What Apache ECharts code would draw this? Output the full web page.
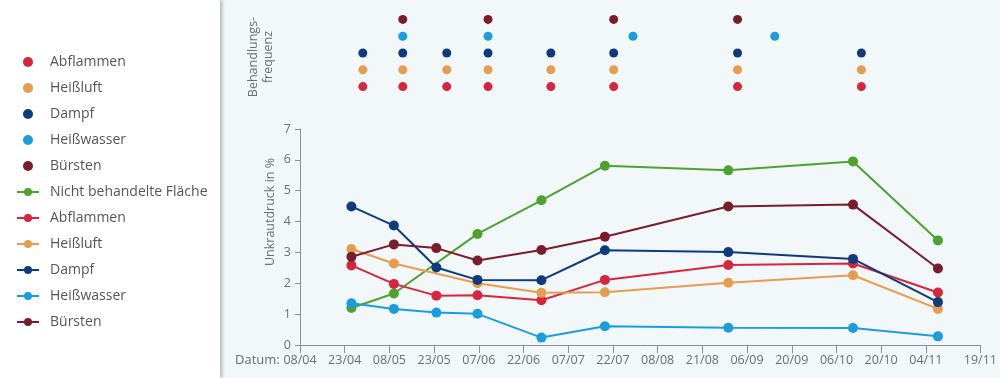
<!DOCTYPE html>
<html>
<head>
<meta charset="utf-8">
<script src="https://cdn.jsdelivr.net/npm/echarts@6/dist/echarts.min.js"></script>
<style>
html, body { margin: 0; padding: 0; background: #f2f7fa; }
#main { width: 1000px; height: 378px; }
</style>
</head>
<body>
<div id="main"></div>
<script>
// x-Achse: gleichmaessige Teilung, Beschriftung als Datum
var tickLabels = ['08/04', '23/04', '08/05', '23/05', '07/06', '22/06', '07/07', '22/07',
                  '08/08', '21/08', '06/09', '20/09', '06/10', '20/10', '04/11', '19/11'];

// Boniturtermine (Position auf der x-Achse)
var messTermine = [1.15, 2.1, 3.05, 3.97, 5.4, 6.82, 9.58, 12.37, 14.27];

// Unkrautdruck in %
var nichtBehandelt = [1.2, 1.67, null, 3.6, 4.69, 5.81, 5.66, 5.95, 3.39];
var abflammen      = [2.58, 1.98, 1.6, 1.61, 1.45, 2.11, 2.59, 2.64, 1.7];
var heissluft      = [3.11, 2.64, null, 2.0, 1.69, 1.71, 2.02, 2.26, 1.17];
var dampf          = [4.49, 3.87, 2.51, 2.11, 2.1, 3.07, 3.01, 2.79, 1.39];
var heisswasser    = [1.35, 1.17, 1.05, 1.01, 0.24, 0.61, 0.56, 0.55, 0.28];
var buersten       = [2.86, 3.26, 3.14, 2.74, 3.08, 3.51, 4.49, 4.55, 2.48];

// Behandlungstermine je Verfahren
var behAbflammen   = [1.4, 2.29, 3.27, 4.19, 5.59, 6.99, 9.75, 12.51];
var behHeissluft   = [1.4, 2.29, 3.27, 4.19, 5.59, 6.99, 9.75, 12.51];
var behDampf       = [1.4, 2.29, 3.27, 4.19, 5.59, 6.99, 9.75, 12.51];
var behHeisswasser = [2.29, 4.19, 7.42, 10.58];
var behBuersten    = [2.29, 4.19, 6.99, 9.75];

var verfahren = ['Abflammen', 'Heißluft', 'Dampf', 'Heißwasser', 'Bürsten'];

var farben = {
	gruen: '#4ea22f',
	rot: '#d6263c',
	orange: '#e59d4f',
	blau: '#0e3a7e',
	hellblau: '#1a9edb',
	bordeaux: '#7a1d2b'
};

function punkte(werte) {
	var res = [];
	for (var i = 0; i < werte.length; i++) {
		if (werte[i] != null) res.push([messTermine[i], werte[i]]);
	}
	return res;
}

function termine(xs, name) {
	return xs.map(function (x) { return [x, name]; });
}

var myChart = echarts.init(document.getElementById('main'));

function linie(name, farbe, werte) {
	return {
		name: name,
		type: 'line',
		xAxisIndex: 0,
		yAxisIndex: 0,
		data: punkte(werte),
		symbol: 'circle',
		symbolSize: 10,
		lineStyle: { width: 2, color: farbe },
		itemStyle: { color: farbe },
		z: 3
	};
}

function dots(name, farbe, xs) {
	return {
		name: name,
		type: 'scatter',
		xAxisIndex: 1,
		yAxisIndex: 1,
		data: termine(xs, name),
		symbolSize: 9,
		itemStyle: { color: farbe, opacity: 1 }
	};
}

var axisGrey = '#8a8f94';
var textGrey = '#6b6f73';

var option = {
	backgroundColor: '#f2f7fa',
	textStyle: { fontFamily: 'Open Sans' },
	animation: false,
	graphic: [
		{
			type: 'rect',
			shape: { x: 0, y: 0, width: 220, height: 378 },
			style: { fill: '#ffffff', shadowBlur: 4, shadowOffsetX: 2, shadowColor: 'rgba(0,0,0,0.28)' },
			z: -10
		},
		{
			type: 'text',
			x: 270, y: 212,
			rotation: Math.PI / 2,
			style: { text: 'Unkrautdruck in %', fill: textGrey, font: '12.5px "Open Sans"', align: 'center', verticalAlign: 'middle' }
		},
		{
			type: 'text',
			x: 261, y: 57,
			rotation: Math.PI / 2,
			style: { text: 'Behandlungs-\nfrequenz', fill: textGrey, font: '12.5px "Open Sans"', align: 'center', verticalAlign: 'middle', lineHeight: 15 }
		},
		{
			type: 'text',
			x: 235, y: 360,
			style: { text: 'Datum:', fill: textGrey, font: '13px "Open Sans"', verticalAlign: 'middle' }
		}
	],
	legend: {
		orient: 'vertical',
		left: 11,
		top: 50,
		itemWidth: 22,
		itemHeight: 10,
		itemGap: 12,
		textStyle: { color: '#555', fontSize: 14, padding: [0, 0, 0, 6] },
		formatter: function (n) { return n.trim(); },
		data: ['Abflammen', 'Heißluft', 'Dampf', 'Heißwasser', 'Bürsten',
		       'Nicht behandelte Fläche', 'Abflammen ', 'Heißluft ', 'Dampf ', 'Heißwasser ', 'Bürsten ']
	},
	grid: [
		{ left: 300, right: 17, top: 129, bottom: 33 },
		{ left: 300, right: 17, top: 11, height: 84 }
	],
	xAxis: [
		{
			type: 'value',
			gridIndex: 0,
			min: 0,
			max: 15.22,
			interval: 1,
			splitLine: { show: false },
			axisLine: { lineStyle: { color: axisGrey, width: 1 } },
			axisTick: { show: true, length: 8, lineStyle: { color: axisGrey } },
			axisLabel: {
				color: textGrey,
				fontSize: 12.5,
				margin: 9,
				showMaxLabel: true,
				formatter: function (v) { return tickLabels[Math.round(v)] || ''; }
			}
		},
		{
			type: 'value',
			gridIndex: 1,
			min: 0,
			max: 15.22,
			show: false
		}
	],
	yAxis: [
		{
			type: 'value',
			gridIndex: 0,
			min: 0,
			max: 7,
			interval: 1,
			splitLine: { show: false },
			axisLine: { show: true, lineStyle: { color: axisGrey } },
			axisTick: { show: true, length: 5, lineStyle: { color: axisGrey } },
			axisLabel: { color: textGrey, fontSize: 12.5, margin: 9 }
		},
		{
			type: 'category',
			gridIndex: 1,
			data: verfahren,
			show: false
		}
	],
	series: [
		dots('Abflammen', farben.rot, behAbflammen),
		dots('Heißluft', farben.orange, behHeissluft),
		dots('Dampf', farben.blau, behDampf),
		dots('Heißwasser', farben.hellblau, behHeisswasser),
		dots('Bürsten', farben.bordeaux, behBuersten),
		linie('Nicht behandelte Fläche', farben.gruen, nichtBehandelt),
		linie('Abflammen ', farben.rot, abflammen),
		linie('Heißluft ', farben.orange, heissluft),
		linie('Dampf ', farben.blau, dampf),
		linie('Heißwasser ', farben.hellblau, heisswasser),
		linie('Bürsten ', farben.bordeaux, buersten)
	]
};
myChart.setOption(option);
</script>
</body>
</html>
